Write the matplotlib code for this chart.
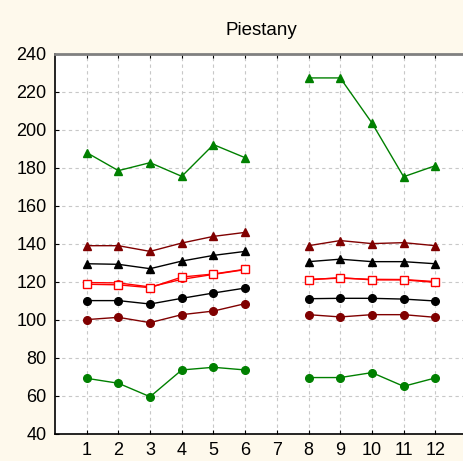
import numpy as np
import matplotlib.pyplot as plt

months = [1, 2, 3, 4, 5, 6, 7, 8, 9, 10, 11, 12]
nan = np.nan

green_tri = [188.1, 178.6, 182.8, 175.6, 192.3, 185.4, nan, 227.4, 227.4, 203.7, 175.4, 181.2]
dred_tri = [139.1, 139.1, 136.1, 140.5, 144.0, 146.1, nan, 139.1, 141.8, 140.2, 140.7, 139.1]
black_tri = [129.6, 129.3, 127.0, 131.0, 134.0, 136.1, nan, 130.7, 132.0, 130.7, 130.7, 129.6]
red_circ = [119.7, 119.5, 117.4, 121.4, 124.0, 126.5, nan, 121.4, 122.0, 121.4, 121.3, 120.2]
red_sq = [118.8, 118.5, 117.0, 122.6, 124.2, 126.7, nan, 121.1, 122.3, 121.1, 121.1, 119.8]
black_circ = [110.2, 110.2, 108.4, 111.4, 114.2, 116.8, nan, 111.2, 111.4, 111.4, 111.0, 110.0]
dred_circ = [100.2, 101.4, 98.6, 102.8, 104.7, 108.6, nan, 102.8, 101.6, 102.8, 102.8, 101.4]
green_circ = [69.3, 66.7, 59.6, 73.7, 75.1, 73.7, nan, 69.7, 69.7, 72.3, 65.1, 69.5]

plt.rcParams['font.family'] = ['Liberation Sans', 'DejaVu Sans']

bg = '#fef9ec'
fig = plt.figure(figsize=(4.64, 4.61), dpi=100, facecolor=bg)
ax = fig.add_axes([0.1185, 0.0586, 0.888, 0.8243])

ax.plot(months, green_tri, color='#008000', marker='^', ms=6, lw=1)
ax.plot(months, dred_tri, color='#800000', marker='^', ms=6, lw=1)
ax.plot(months, black_tri, color='black', marker='^', ms=6, lw=1)
ax.plot(months, red_circ, color='#ff0000', marker='o', ms=4, lw=1)
ax.plot(months, red_sq, color='#ff0000', marker='s', ms=6, lw=1,
        markerfacecolor='white', markeredgewidth=1)
ax.plot(months, black_circ, color='black', marker='o', ms=5.5, lw=1)
ax.plot(months, dred_circ, color='#800000', marker='o', ms=5.5, lw=1)
ax.plot(months, green_circ, color='#008000', marker='o', ms=5.5, lw=1)

ax.set_xlim(0, 13)
ax.set_ylim(40, 240)
ax.set_xticks(months)
ax.set_yticks(np.arange(40, 241, 20))
ax.grid(True, color='#c8c8c8', linestyle=(0, (3, 3)), linewidth=0.8)
ax.tick_params(direction='in', length=3, labelsize=13, top=True, pad=6)

ax.spines['top'].set_color('#808080')
ax.spines['top'].set_linewidth(2)
ax.spines['right'].set_visible(False)
ax.spines['left'].set_linewidth(1.2)
ax.spines['bottom'].set_linewidth(1.2)

ax.set_title('Piestany', fontsize=13.5, pad=14)

fig.savefig('out.png', dpi=100, facecolor=bg)
